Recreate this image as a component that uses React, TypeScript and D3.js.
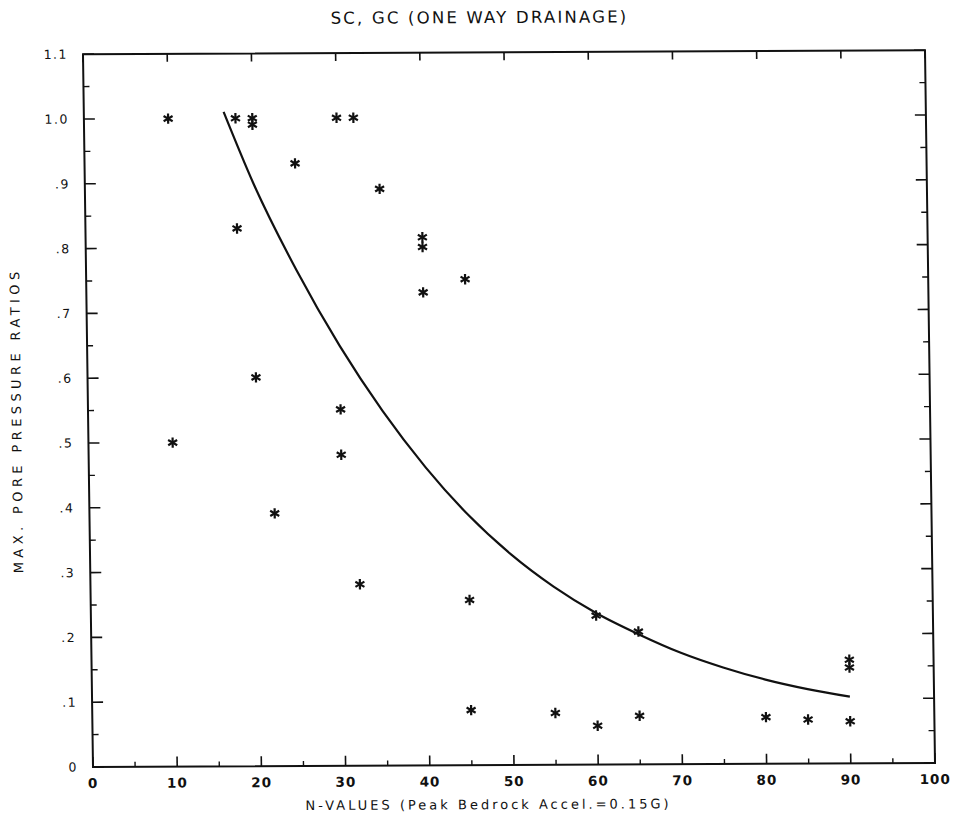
import React from "react";
import * as d3 from "d3";

const title = "SC, GC (ONE WAY DRAINAGE)";
const xTitle = "N-VALUES (Peak Bedrock Accel.=0.15G)";
const yTitle = "MAX. PORE PRESSURE RATIOS";

const xTicks = [0, 10, 20, 30, 40, 50, 60, 70, 80, 90, 100];
const xMinor = [5, 15, 25, 35, 45, 55, 65, 75, 85, 95];
const yTicks = [0, 0.1, 0.2, 0.3, 0.4, 0.5, 0.6, 0.7, 0.8, 0.9, 1.0, 1.1];
const yTickLabels = ["0", ".1", ".2", ".3", ".4", ".5", ".6", ".7", ".8", ".9", "1.0", "1.1"];
const yMinor = [0.05, 0.15, 0.25, 0.35, 0.45, 0.55, 0.65, 0.75, 0.85, 0.95, 1.05];

// observed points (N-value, ratio)
const pointN = [10, 18, 20, 20, 18, 25, 30, 32, 35, 40, 40, 40, 45, 20, 30, 10, 30, 22, 32, 45, 45, 55, 60, 60, 65, 65, 80, 85, 90, 90, 90];
const pointR = [1.0, 1.0, 1.0, 0.99, 0.83, 0.93, 1.0, 1.0, 0.89, 0.815, 0.80, 0.73, 0.75, 0.60, 0.55, 0.50, 0.48, 0.39, 0.28, 0.255, 0.085, 0.08, 0.23, 0.06, 0.205, 0.075, 0.072, 0.068, 0.16, 0.148, 0.065];

// fitted curve
const curveN = [16.6, 20, 25, 30, 35, 40, 45, 50, 55, 60, 65, 70, 75, 80, 85, 90];
const curveR = [1.01, 0.9, 0.765, 0.648, 0.547, 0.46, 0.386, 0.325, 0.275, 0.234, 0.201, 0.172, 0.149, 0.13, 0.115, 0.103];

const W = 962;
const H = 830;
const L = 93;
const R = 935;
const B = 767;
const T = 54.2;

export default function App() {
  const x = d3.scaleLinear().domain([0, 100]).range([L, R]);
  const y = d3.scaleLinear().domain([0, 1.1]).range([B, T]);
  const line = d3
    .line<number>()
    .x((_, i) => x(curveN[i]))
    .y((d) => y(d))
    .curve(d3.curveMonotoneX);
  const pathD = line(curveR) || "";

  const font = "'DejaVu Sans', sans-serif";
  const ink = "#111";
  const star = (cx: number, cy: number, k: number) => {
    const r = 5.2;
    const angles = [90, 30, 150];
    return (
      <g key={k}>
        {angles.map((a) => {
          const rad = (a * Math.PI) / 180;
          const dx = Math.cos(rad) * r;
          const dy = Math.sin(rad) * r;
          return (
            <line
              key={a}
              x1={cx - dx}
              y1={cy - dy}
              x2={cx + dx}
              y2={cy + dy}
              stroke={ink}
              strokeWidth={2.2}
            />
          );
        })}
      </g>
    );
  };

  return (
    <svg
      width={W}
      height={H}
      viewBox={`0 0 ${W} ${H}`}
      style={{ position: "absolute", left: 0, top: 0, background: "#fff" }}
    >
      <rect x={0} y={0} width={W} height={H} fill="#fff" />
      <g transform="matrix(1,-0.00475,0.01404,1,-10.77,0.442)">
        {/* title */}
        <text
          x={490}
          y={25}
          textAnchor="middle"
          fontFamily={font}
          fontSize={16.5}
          letterSpacing={2.2}
          fill={ink}
        >
          {title}
        </text>

        {/* frame */}
        <rect x={L} y={T} width={R - L} height={B - T} fill="none" stroke={ink} strokeWidth={2} />

        {/* x ticks bottom & top */}
        {xTicks.map((t) => (
          <g key={"xt" + t}>
            <line x1={x(t)} x2={x(t)} y1={B} y2={B - 10} stroke={ink} strokeWidth={1.6} />
            <line x1={x(t)} x2={x(t)} y1={T} y2={T + 8} stroke={ink} strokeWidth={1.6} />
            <text
              x={x(t)}
              y={788}
              textAnchor="middle"
              fontFamily={font}
              fontWeight="bold"
              fontSize={13.5}
              letterSpacing={1}
              fill={ink}
              style={{ fontFeatureSettings: '"zero" 1' }}
            >
              {String(t)}
            </text>
          </g>
        ))}
        {xMinor.map((t) => (
          <line key={"xm" + t} x1={x(t)} x2={x(t)} y1={B} y2={B - 5} stroke={ink} strokeWidth={1.4} />
        ))}

        {/* y ticks left & right */}
        {yTicks.map((t, i) => (
          <g key={"yt" + t}>
            <line x1={L} x2={L + 11} y1={y(t)} y2={y(t)} stroke={ink} strokeWidth={1.6} />
            <line x1={R} x2={R - 11} y1={y(t)} y2={y(t)} stroke={ink} strokeWidth={1.6} />
            <text
              x={78}
              y={y(t) + 4.5}
              textAnchor="end"
              fontFamily={font}
              fontSize={12.5}
              letterSpacing={1.5}
              fill={ink}
            >
              {yTickLabels[i]}
            </text>
          </g>
        ))}
        {yMinor.map((t) => (
          <g key={"ym" + t}>
            <line x1={L} x2={L + 6} y1={y(t)} y2={y(t)} stroke={ink} strokeWidth={1.4} />
            <line x1={R} x2={R - 6} y1={y(t)} y2={y(t)} stroke={ink} strokeWidth={1.4} />
          </g>
        ))}

        {/* axis titles */}
        <text
          x={488}
          y={811}
          textAnchor="middle"
          fontFamily={font}
          fontSize={13}
          letterSpacing={3}
          fill={ink}
        >
          {xTitle}
        </text>
        <text
          transform={`translate(26,420) rotate(-90)`}
          textAnchor="middle"
          fontFamily={font}
          fontSize={13}
          letterSpacing={4.4}
          fill={ink}
        >
          {yTitle}
        </text>

        {/* curve */}
        <path d={pathD} fill="none" stroke={ink} strokeWidth={2.2} />

        {/* points */}
        {pointN.map((n, i) => star(x(n), y(pointR[i]), i))}
      </g>
    </svg>
  );
}
